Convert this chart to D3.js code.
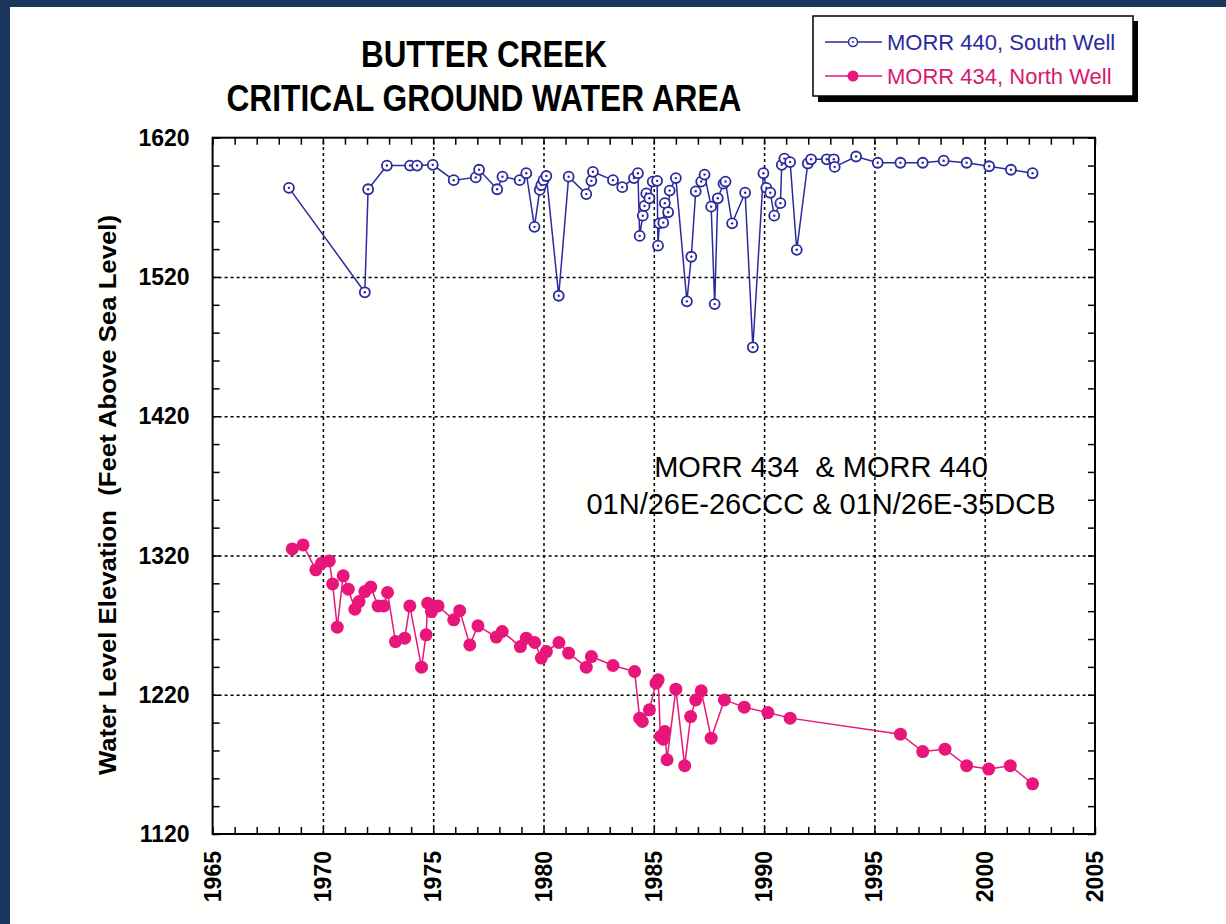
<!DOCTYPE html>
<html>
<head>
<meta charset="utf-8">
<script src="https://cdn.jsdelivr.net/npm/d3@7"></script>
<style>
body { margin: 0; background: #1b365d; }
svg { display: block; }
text { font-family: "Liberation Sans", Arial, sans-serif; }
</style>
</head>
<body>
<svg id="chart"></svg>
<script>
// MORR 440, South Well (decimal year, feet above sea level)
var southYears = [1968.46, 1971.9, 1972.05, 1972.9, 1973.95, 1974.27, 1974.98, 1975.93, 1976.93, 1977.08,
  1977.9, 1978.14, 1978.92, 1979.22, 1979.59, 1979.83, 1979.9, 1980.0, 1980.13, 1980.69,
  1981.14, 1981.94, 1982.17, 1982.24, 1983.15, 1983.57, 1984.1, 1984.28, 1984.36, 1984.5,
  1984.58, 1984.66, 1984.8, 1984.95, 1985.15, 1985.19, 1985.25, 1985.43, 1985.5, 1985.65,
  1985.72, 1986.0, 1986.5, 1986.7, 1986.9, 1987.15, 1987.3, 1987.6, 1987.76, 1987.9,
  1988.16, 1988.25, 1988.55, 1989.14, 1989.49, 1989.97, 1990.1, 1990.28, 1990.46, 1990.74,
  1990.8, 1990.92, 1991.18, 1991.48, 1991.98, 1992.13, 1992.84, 1993.16, 1993.2, 1994.17,
  1995.15, 1996.18, 1997.19, 1998.14, 1999.18, 2000.2, 2001.19, 2002.17];
var southLevels = [1584, 1509, 1583, 1600, 1600, 1600, 1600.5, 1589.5, 1591.5, 1597,
  1583, 1592, 1589.5, 1594.5, 1556, 1582.5, 1586, 1589.5, 1592.5, 1506.5,
  1592, 1579.5, 1589, 1595.5, 1589.5, 1584.5, 1591, 1594.5, 1549.5, 1564,
  1571, 1580, 1576.5, 1588.5, 1589, 1542.5, 1558.5, 1559, 1573, 1566.5,
  1582, 1591, 1502.5, 1534.5, 1581.5, 1588.5, 1593.5, 1570.5, 1500.5, 1576.5,
  1587, 1588.5, 1558.5, 1580.5, 1469.5, 1594.5, 1584, 1580.5, 1564, 1573,
  1600.5, 1605, 1602.5, 1539.5, 1601.5, 1604.5, 1604.5, 1604.5, 1599, 1606.5,
  1602, 1602, 1602, 1603.5, 1602, 1599.5, 1597, 1594.5];

// MORR 434, North Well
var northYears = [1968.61, 1969.1, 1969.68, 1969.94, 1970.29, 1970.44, 1970.65, 1970.92, 1971.15, 1971.45,
  1971.64, 1971.9, 1972.17, 1972.5, 1972.76, 1972.93, 1973.29, 1973.71, 1973.94, 1974.47,
  1974.68, 1974.75, 1974.92, 1975.0, 1975.22, 1975.93, 1976.2, 1976.66, 1977.03, 1977.86,
  1978.13, 1978.95, 1979.22, 1979.6, 1979.9, 1980.13, 1980.7, 1981.14, 1981.94, 1982.17,
  1983.15, 1984.13, 1984.36, 1984.48, 1984.8, 1985.1, 1985.2, 1985.3, 1985.43, 1985.5,
  1985.6, 1986.0, 1986.4, 1986.67, 1986.9, 1987.15, 1987.6, 1988.2, 1989.1, 1990.17,
  1991.18, 1996.18, 1997.19, 1998.2, 1999.18, 2000.18, 2001.16, 2002.17];
var northLevels = [1324.7, 1327.6, 1309.7, 1314.5, 1316.1, 1299.6, 1268.5, 1305.4, 1295.8, 1281.4,
  1286.9, 1294.1, 1297.3, 1283.8, 1283.8, 1293.4, 1258.2, 1260.6, 1283.8, 1239.8,
  1263, 1285.7, 1279.7, 1283.8, 1283.8, 1273.8, 1280.4, 1255.8, 1269.5, 1261.4,
  1265.4, 1254.6, 1260.6, 1257.5, 1246.3, 1251, 1257.5, 1249.9, 1239.8, 1247.4,
  1241, 1236.7, 1203.2, 1200.8, 1209.2, 1228.3, 1230.7, 1190, 1188.1, 1193.6,
  1173.3, 1224, 1169, 1204.3, 1216.3, 1222.8, 1188.8, 1216.3, 1211.1, 1207.2,
  1203.2, 1191.7, 1179.2, 1180.9, 1169, 1166.6, 1169, 1156];

var xTickLabels = [1965, 1970, 1975, 1980, 1985, 1990, 1995, 2000, 2005];
var yTickLabels = [1120, 1220, 1320, 1420, 1520, 1620];
var legendLabels = ["MORR 440, South Well", "MORR 434, North Well"];
var titleLines = ["BUTTER CREEK", "CRITICAL GROUND WATER AREA"];
var noteLines = ["MORR 434  & MORR 440", "01N/26E-26CCC & 01N/26E-35DCB"];

var width = 1226;
var height = 924;
var plotLeft = 212.6, plotRight = 1095, plotTop = 137.7, plotBottom = 834;
var blue = "#2a2a9e";
var pink = "#e8157a";

var svg = d3.select("#chart")
    .attr("width", width)
    .attr("height", height);

svg.append("rect").attr("width", width).attr("height", height).attr("fill", "#1b365d");
svg.append("rect").attr("x", 10).attr("y", 7).attr("width", width - 10).attr("height", height - 7).attr("fill", "#fffffd");

var xScale = d3.scaleLinear().domain([1965, 2005]).range([plotLeft, plotRight]);
var yScale = d3.scaleLinear().domain([1120, 1620]).range([plotBottom, plotTop]);

// dotted grid
var gridX = d3.axisBottom(xScale)
    .tickValues(xTickLabels.slice(1, -1))
    .tickSize(-(plotBottom - plotTop))
    .tickFormat("");
var gridY = d3.axisLeft(yScale)
    .tickValues(yTickLabels.slice(1, -1))
    .tickSize(-(plotRight - plotLeft))
    .tickFormat("");
[svg.append("g").attr("transform", `translate(0,${plotBottom})`).call(gridX),
 svg.append("g").attr("transform", `translate(${plotLeft},0)`).call(gridY)].forEach(g => {
    g.select(".domain").remove();
    g.selectAll("line")
        .attr("stroke", "#000")
        .attr("stroke-width", 1.5)
        .attr("stroke-dasharray", "3,3");
});

// inward ticks on all four sides
var minorX = d3.range(1965, 2006);
var minorY = d3.range(1120, 1621, 20);
var tickAxes = [
    [d3.axisBottom(xScale).tickValues(minorX), `translate(0,${plotBottom})`],
    [d3.axisTop(xScale).tickValues(minorX), `translate(0,${plotTop})`],
    [d3.axisLeft(yScale).tickValues(minorY), `translate(${plotLeft},0)`],
    [d3.axisRight(yScale).tickValues(minorY), `translate(${plotRight},0)`]
];
tickAxes.forEach(a => {
    var g = svg.append("g")
        .attr("transform", a[1])
        .call(a[0].tickSize(-7).tickSizeOuter(0).tickFormat(""));
    g.select(".domain").remove();
    g.selectAll("line").attr("stroke", "#000").attr("stroke-width", 1.5);
});

svg.append("rect")
    .attr("x", plotLeft).attr("y", plotTop)
    .attr("width", plotRight - plotLeft).attr("height", plotBottom - plotTop)
    .attr("fill", "none").attr("stroke", "#000").attr("stroke-width", 2);

// tick labels
svg.append("g").selectAll("text")
    .data(yTickLabels)
  .enter()
  .append("text")
    .attr("x", plotLeft - 23)
    .attr("y", d => yScale(d))
    .attr("dy", "0.35em")
    .attr("text-anchor", "end")
    .attr("font-size", 23)
    .attr("font-weight", "bold")
    .text(d => d);

svg.append("g").selectAll("text")
    .data(xTickLabels)
  .enter()
  .append("text")
    .attr("transform", d => `translate(${xScale(d)},${plotBottom + 17}) rotate(-90)`)
    .attr("dy", "0.35em")
    .attr("text-anchor", "end")
    .attr("font-size", 23)
    .attr("font-weight", "bold")
    .text(d => d);

svg.append("text")
    .attr("transform", "translate(116,495) rotate(-90)")
    .attr("text-anchor", "middle")
    .attr("font-size", 23)
    .attr("font-weight", "bold")
    .attr("textLength", 560)
    .attr("lengthAdjust", "spacingAndGlyphs")
    .style("white-space", "pre")
    .text("Water Level Elevation  (Feet Above Sea Level)");

// title
svg.append("g").selectAll("text")
    .data(titleLines)
  .enter()
  .append("text")
    .attr("x", 484)
    .attr("y", (d, i) => 67 + i * 44)
    .attr("text-anchor", "middle")
    .attr("font-size", 36)
    .attr("font-weight", "bold")
    .attr("textLength", (d, i) => i == 0 ? 246 : 515)
    .attr("lengthAdjust", "spacingAndGlyphs")
    .text(d => d);

// annotation
svg.append("g").selectAll("text")
    .data(noteLines)
  .enter()
  .append("text")
    .attr("x", 821)
    .attr("y", (d, i) => 477 + i * 37)
    .attr("text-anchor", "middle")
    .attr("font-size", 29)
    .style("white-space", "pre")
    .text(d => d);

// series
var south = southYears.map((d, i) => ({year: d, level: southLevels[i]}));
var north = northYears.map((d, i) => ({year: d, level: northLevels[i]}));

var line = d3.line()
    .x(d => xScale(d.year))
    .y(d => yScale(d.level));

svg.append("path")
    .datum(south)
    .attr("d", line)
    .attr("fill", "none")
    .attr("stroke", blue)
    .attr("stroke-width", 1.5);

svg.append("path")
    .datum(north)
    .attr("d", line)
    .attr("fill", "none")
    .attr("stroke", pink)
    .attr("stroke-width", 1.5);

var southDots = svg.append("g").selectAll("g")
    .data(south)
  .enter()
  .append("g")
    .attr("transform", d => `translate(${xScale(d.year)},${yScale(d.level)})`);
southDots.append("circle").attr("r", 5).attr("fill", "#fff").attr("stroke", blue).attr("stroke-width", 1.8);
southDots.append("circle").attr("r", 1.2).attr("fill", blue);

svg.append("g").selectAll("circle")
    .data(north)
  .enter()
  .append("circle")
    .attr("cx", d => xScale(d.year))
    .attr("cy", d => yScale(d.level))
    .attr("r", 6.5)
    .attr("fill", pink);

// legend
var legend = svg.append("g");
legend.append("rect").attr("x", 818).attr("y", 21).attr("width", 320).attr("height", 81).attr("fill", "#000");
legend.append("rect").attr("x", 813).attr("y", 16).attr("width", 320).attr("height", 80)
    .attr("fill", "#fff").attr("stroke", "#000").attr("stroke-width", 1.5);

var legendColors = [blue, pink];
legendLabels.forEach((label, i) => {
    var ly = 42 + i * 34;
    legend.append("line")
        .attr("x1", 825).attr("x2", 882).attr("y1", ly).attr("y2", ly)
        .attr("stroke", legendColors[i]).attr("stroke-width", 1.5);
    if (i == 0) {
        legend.append("circle").attr("cx", 853).attr("cy", ly).attr("r", 4.5)
            .attr("fill", "#fff").attr("stroke", blue).attr("stroke-width", 1.5);
        legend.append("circle").attr("cx", 853).attr("cy", ly).attr("r", 1).attr("fill", blue);
    } else {
        legend.append("circle").attr("cx", 853).attr("cy", ly).attr("r", 5.5).attr("fill", pink);
    }
    legend.append("text")
        .attr("x", 887)
        .attr("y", ly + 8)
        .attr("font-size", 22)
        .attr("fill", i == 0 ? blue : "#d6196f")
        .text(label);
});
</script>
</body>
</html>
